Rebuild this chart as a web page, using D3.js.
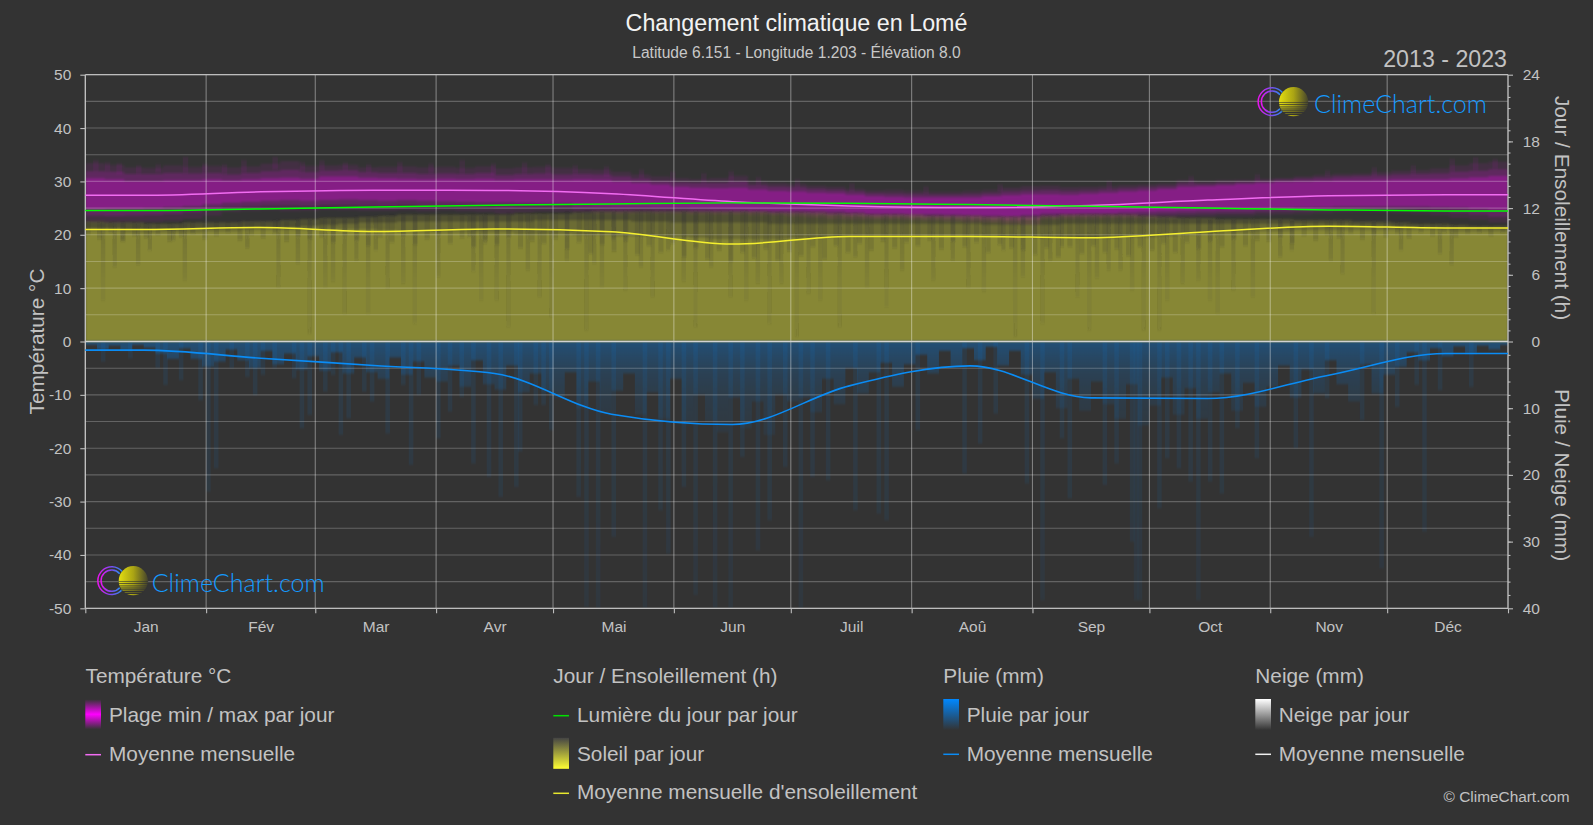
<!DOCTYPE html>
<html><head><meta charset="utf-8">
<script src="https://cdn.jsdelivr.net/npm/d3@7"></script>
<style>html,body{margin:0;padding:0;background:#333;overflow:hidden}svg{display:block}text{font-family:"Liberation Sans",Arial,sans-serif}</style>
</head><body><svg id="c" width="1593" height="825"></svg>
<script>
// ---------- data ----------
const months=["Jan","Fév","Mar","Avr","Mai","Jun","Juil","Aoû","Sep","Oct","Nov","Déc"];
const monthStarts=[0,31,59,90,120,151,181,212,243,273,304,334,365];
const monthMids=[15,45,74,105,135,166,196,227,258,288,319,349];
const tempTicks=[50,40,30,20,10,0,-10,-20,-30,-40,-50];
const hourTicks=[0,6,12,18,24];
const rainTicks=[0,10,20,30,40];
// monthly means
const tempMean=[27.4,28.05,28.35,28.3,27.7,26.2,25.4,25.1,25.5,26.5,27.3,27.5];
const daylight=[11.78,11.93,12.11,12.26,12.38,12.47,12.44,12.32,12.17,12.0,11.84,11.75];
const sunMean=[10.07,10.25,9.9,10.13,9.87,8.76,9.45,9.45,9.33,9.87,10.37,10.22];
const rainMean=[1.3,2.5,3.6,4.8,10.9,12.45,6.65,3.65,8.45,8.55,5.05,1.8];
// five-day envelopes (day 0,5,...,365)
const tMaxFar=[33.4,33.1,32.6,32.5,33.0,32.7,32.9,32.6,32.8,33.3,33.8,32.9,33.0,33.1,32.6,32.7,32.8,32.6,32.7,32.5,32.8,32.4,32.6,32.7,32.5,32.3,32.2,31.8,31.3,30.9,30.6,30.4,30.6,31.0,30.0,29.7,29.5,29.2,29.0,28.6,28.3,28.4,28.2,28.0,28.0,28.2,28.4,28.8,29.1,29.2,28.9,29.0,29.1,29.3,29.4,29.6,30.2,30.0,30.2,30.3,30.5,30.6,30.9,31.2,31.4,31.5,31.7,32.0,32.1,32.4,33.0,33.4,33.7,33.4];
const tMaxMid=[31.9,31.8,31.4,31.4,31.6,31.5,31.6,31.3,31.6,31.9,32.2,31.7,32.0,32.1,31.7,31.6,31.6,31.4,31.5,31.4,31.6,31.2,31.4,31.5,31.3,31.4,31.3,30.9,30.5,30.1,29.8,29.7,29.7,30.0,29.3,29.0,28.9,28.6,28.4,28.1,27.8,27.7,27.6,27.5,27.5,27.6,27.8,28.1,28.3,28.4,28.2,28.3,28.5,28.7,28.9,29.1,29.6,29.5,29.7,29.9,30.1,30.3,30.5,30.7,30.9,31.0,31.1,31.3,31.4,31.5,31.8,32.0,32.3,32.1];
const tMaxCore=[30.6,30.4,30.1,30.1,30.2,30.2,30.4,30.2,30.4,30.6,30.7,30.5,30.9,30.9,30.7,30.6,30.5,30.4,30.5,30.4,30.5,30.3,30.4,30.4,30.3,30.4,30.3,30.0,29.7,29.4,29.0,28.8,28.7,28.8,28.5,28.2,28.1,27.9,27.8,27.5,27.2,27.1,27.0,27.0,27.0,27.0,27.2,27.4,27.6,27.6,27.5,27.7,27.9,28.1,28.3,28.6,29.0,29.1,29.3,29.5,29.7,29.9,30.0,30.1,30.2,30.2,30.3,30.4,30.4,30.4,30.6,30.8,31.0,30.9];
const tMinCore=[24.8,24.9,24.9,25.0,25.2,25.4,25.7,26.0,26.2,26.4,26.5,26.4,26.5,26.6,26.5,26.4,26.5,26.4,26.3,26.2,26.1,26.1,26.0,25.9,25.9,25.5,25.4,25.3,25.3,25.2,25.2,25.0,24.9,24.8,24.7,24.6,24.6,24.5,24.4,24.2,24.0,24.0,23.9,23.9,23.8,23.7,23.6,23.5,23.7,24.0,24.0,24.1,24.1,24.2,24.3,24.4,24.5,24.6,24.7,24.8,24.9,25.0,25.1,25.2,25.3,25.3,25.3,25.3,25.3,25.2,25.1,24.9,24.6,24.3];
const tMinMid=[23.6,23.5,23.6,23.7,23.9,24.2,24.7,25.1,25.3,25.5,25.5,25.4,25.6,25.6,25.5,25.4,25.6,25.4,25.4,25.3,25.2,25.0,25.1,25.1,25.1,24.8,24.7,24.6,24.7,24.6,24.6,24.4,24.3,24.3,24.2,24.1,24.0,23.8,23.7,23.5,23.4,23.4,23.3,23.3,23.2,23.0,22.9,22.7,22.8,23.4,23.5,23.5,23.6,23.6,23.7,23.8,23.9,24.0,24.1,24.1,24.3,24.4,24.5,24.6,24.7,24.8,24.7,24.7,24.6,24.4,24.1,23.8,23.4,23.1];
const tMinFar=[22.4,22.3,22.4,22.4,22.6,23.0,23.6,24.3,24.5,24.6,24.4,24.5,24.7,24.6,24.5,24.5,24.6,24.4,24.6,24.4,24.3,24.0,24.2,24.4,24.3,24.2,24.1,24.0,24.1,24.0,24.0,23.9,23.8,23.8,23.7,23.6,23.4,23.2,23.0,22.9,22.9,22.9,22.8,22.7,22.6,22.4,22.3,22.0,21.9,22.9,23.0,23.0,23.1,23.1,23.1,23.2,23.3,23.4,23.5,23.5,23.7,23.8,23.9,24.1,24.2,24.3,24.2,24.1,23.9,23.6,23.2,22.8,22.3,21.9];
// [day, °C] hottest single days sticking out of the band
const hotDays=[[2,34],[5,33.6],[8,33.4],[13,33],[18,33.2],[25,34.6],[30,33.4],[35,33.2],[40,34],[48,34.6],[55,33.6],[60,33.9],[66,33.5],[72,33.2],[80,33.6],[88,33.3],[96,34],[104,33.3],[112,33.5],[118,33.2],[125,33],[133,32.8],[142,32.2],[150,31.8],[158,31.5],[165,31.9],[172,30.8],[182,30.4],[196,29.6],[215,29],[234,29.4],[262,30.1],[283,31],[300,31.3],[318,32],[330,32.6],[340,33],[350,34.2],[356,34.5],[361,34.2]];
const sunTop=[10.8,10.7,10.7,10.6,10.6,10.7,10.7,10.7,10.8,10.8,10.9,11.0,11.1,11.1,11.2,11.3,11.4,11.4,11.4,11.4,11.4,11.4,11.5,11.5,11.5,11.6,11.7,11.7,11.7,11.7,11.7,11.7,11.7,11.7,11.7,11.6,11.6,11.6,11.5,11.5,11.4,11.4,11.4,11.3,11.3,11.3,11.2,11.2,11.2,11.3,11.4,11.4,11.4,11.4,11.3,11.2,11.1,11.1,11.0,11.0,11.0,11.0,10.9,10.9,10.9,10.8,10.8,10.7,10.6,10.6,10.5,10.4,10.4,10.3];
const sunMid=[10.2,10.2,10.1,10.1,10.1,10.2,10.2,10.2,10.3,10.3,10.3,10.4,10.5,10.6,10.7,10.7,10.8,10.8,10.8,10.8,10.8,10.8,10.8,10.9,10.9,10.9,10.9,10.9,10.8,10.8,10.7,10.7,10.7,10.7,10.7,10.6,10.6,10.6,10.6,10.6,10.6,10.6,10.6,10.6,10.6,10.6,10.5,10.5,10.5,10.5,10.6,10.6,10.6,10.6,10.6,10.6,10.6,10.6,10.6,10.6,10.6,10.6,10.6,10.6,10.6,10.5,10.5,10.4,10.3,10.3,10.2,10.2,10.2,10.1];
const sunSolid=[9.9,9.9,9.8,9.8,9.8,9.8,9.9,9.9,10.0,10.0,10.0,10.0,10.1,10.1,10.1,10.0,9.9,9.8,9.8,9.8,9.8,9.8,9.7,9.7,9.7,9.6,9.6,9.5,9.5,9.4,9.4,9.3,9.2,9.2,9.2,9.2,9.3,9.3,9.4,9.4,9.4,9.4,9.4,9.5,9.5,9.5,9.5,9.4,9.4,9.3,9.3,9.3,9.3,9.4,9.4,9.5,9.6,9.7,9.8,9.8,9.9,9.9,10.0,10.0,10.0,10.0,10.0,10.0,10.0,10.0,9.9,9.9,9.9,9.9];
// every third day: how far the usual rain reaches, mm
const rainDense=[0.5,1.2,0.6,1.3,0.5,0.9,1.8,2.6,1.0,2.6,3.8, 3.0,1.2,2.8,4.0,1.4,3.4,1.8,4.2,2.2, 4.4,1.6,4.8,2.4,4.6,5.6,2.4,5.0,3.0,5.4,6.0, 3.6,6.8,2.8,6.4,7.2,3.6,7.6,4.8,7.4, 8.4,4.6,10.0,6.0,10.8,7.4,4.8,11.0,7.6,11.6,5.6, 12.4,8.0,12.0,13.6,8.4,13.0,9.0,14.0,8.0,9.0, 8.4,10.6,5.6,9.4,4.0,7.8,4.6,3.2,6.8,3.4, 2.0,4.8,1.4,3.8,1.0,2.8,0.8,3.6,1.4,5.0, 8.6,4.6,10.0,5.6,10.4,6.0,9.4,11.6,6.4,12.6, 9.6,5.4,11.0,7.0,11.6,7.6,4.8,10.4,6.2,9.8, 6.8,3.6,8.4,4.2,7.8,2.8,6.4,9.0,3.4,7.8,5.0, 3.8,1.6,2.8,1.0,2.2,0.7,1.8,0.6,1.2,0.5,0.5];
// every third day: how far the usual cloudy streak cuts down, hours
const sunShort=[9.6,9.2,9.8,9.0,9.5,9.3,9.6,9.0,9.4,9.7,9.2, 9.5,9.8,9.1,9.6,9.3,9.7,9.0,9.5,9.2, 9.4,8.9,9.6,9.1,8.6,9.4,8.9,9.5,8.7,9.2,9.6, 8.8,9.3,8.5,9.1,8.7,9.4,8.4,9.0,8.8, 9.2,8.3,8.9,7.9,8.7,8.1,9.0,7.8,8.6,8.0,8.8, 7.6,8.4,7.4,8.2,7.2,8.0,7.5,8.3,7.3,8.1, 7.7,8.5,7.4,8.6,8.0,8.8,8.2,9.0,8.4,8.9, 8.6,9.1,8.3,9.0,8.5,8.9,8.0,8.7,8.4,8.2, 7.8,8.4,7.6,8.5,7.9,8.6,8.0,8.3,7.7,8.5, 8.2,8.8,8.0,8.9,8.3,9.0,8.5,9.2,8.6,9.1, 9.0,9.4,8.8,9.5,9.1,9.6,9.3,9.7,9.2,9.6,9.4, 9.7,9.3,9.8,9.5,9.8,9.4,9.7,9.8,9.5,9.8,9.8];
// [day, deepest mm] single-day rain streaks
const rainSpikes=[[4,3],[11,2.5],[18,4],[20,6.5],[24,5.8],[29,8.8],[31,22.5],[33,19],[37,4],[41,5.3],[43,8],[45,5],[48,4],[53,5.5],[55,13],[57,11],[61,7.5],[63,5],[65,14],[67,11.5],[71,7.5],[73,9],[77,13.8],[81,6.5],[83,18.5],[85,8],[90,14.5],[93,10.5],[96,8.3],[99,18.3],[103,20.3],[106,23.3],[110,21.8],[111,16.5],[115,9.5],[117,9.5],[119,13.3],[126,23.3],[128,39.8],[131,40],[135,29.3],[143,40],[147,25.3],[149,31.8],[153,21.8],[156,38],[161,40],[165,40],[168,17.3],[172,31.3],[175,26.8],[179,18.8],[183,40],[186,20.3],[190,20.8],[197,25.3],[203,25.8],[205,26.8],[213,13.3],[225,19.8],[229,15.3],[233,10.8],[241,21.3],[245,38.8],[250,14.5],[252,23.5],[261,21.5],[264,18.3],[268,30],[269,38.8],[270,38.8],[275,25],[277,17.5],[280,19],[283,21],[285,38.8],[288,21],[291,22.8],[295,13],[300,17.5],[310,16],[314,29.3],[318,8.5],[327,11.8],[332,34],[336,9.8],[341,6.5],[343,28.5],[347,7.3],[355,6.8]];
// [day, hours reached] cloudy-day streaks cutting into the sunshine
const sunDips=[[4,3.7],[7,6.7],[9,9.1],[13,6.9],[16,8.2],[22,9.1],[25,5.5],[41,8.4],[49,4.9],[54,7],[57,0.7],[61,4.9],[63,5.4],[66,2.5],[69,7.3],[72,2.5],[74,8.2],[77,4.8],[81,5.2],[84,1.6],[90,5.8],[98,9.4],[99,6.3],[101,3.7],[102,8.8],[105,3.7],[108,1.3],[113,6.4],[116,4],[119,2.2],[123,7.3],[128,1],[130,7],[132,4.9],[135,9.1],[138,4.6],[142,6.7],[145,4],[149,8.2],[153,5.4],[156,1.3],[160,6.7],[165,4],[169,3.7],[172,5.2],[175,1.6],[178,5.2],[182,0.4],[185,4.3],[188,3.7],[193,1.3],[197,7.6],[200,4.9],[205,3.1],[209,6.4],[217,5.5],[222,7.3],[226,4.9],[230,4.5],[235,8.2],[238,0.4],[240,5.8],[243,9.4],[245,1.6],[247,7.3],[250,8.5],[254,4],[257,1],[259,5.7],[262,6.4],[265,6.4],[268,4.6],[271,1],[275,1],[277,3.7],[281,5.2],[285,5.5],[288,3.7],[290,2.5],[294,4.6],[299,4],[306,7.6],[309,8.2],[319,7.3],[322,6.1],[330,2.5],[337,8.2],[347,7.9],[350,6.9]];
// text
const titleText="Changement climatique en Lomé";
const subtitleText="Latitude 6.151 - Longitude 1.203 - Élévation 8.0";
const periodText="2013 - 2023";
const logoText="ClimeChart.com";
// ---------- layout ----------
const L=85.3,R=1508,T=74.7,B=608.3;
const svg=d3.select("#c");
const TXT="#c2c2c2", FS=20.8;
svg.append("rect").attr("width",1593).attr("height",825).attr("fill","#333");
const x=d3.scaleLinear([0,365],[L,R]);
const y=d3.scaleLinear([-50,50],[B,T]);
const yH=d3.scaleLinear([0,24],[y(0),y(50)]);
const yR=d3.scaleLinear([0,40],[y(0),y(-50)]);
const dayW=x(1)-x(0);
const defs=svg.append("defs");
defs.append("clipPath").attr("id","plot").append("rect").attr("x",L).attr("y",T).attr("width",R-L).attr("height",B-T);
function blur(id,sd){defs.append("filter").attr("id",id).attr("x","-2%").attr("width","104%").attr("y","-20%").attr("height","140%")
  .append("feGaussianBlur").attr("stdDeviation",sd);}
blur("soft","1.0 1.0");blur("streak","0.7 0.9");
function grad(id,stops,user){
  const g=defs.append("linearGradient").attr("id",id).attr("x1",0).attr("x2",0);
  if(user){g.attr("gradientUnits","userSpaceOnUse").attr("y1",user[0]).attr("y2",user[1]);}else{g.attr("y1",0).attr("y2",1);}
  stops.forEach(s=>g.append("stop").attr("offset",s[0]).attr("stop-color",s[1]).attr("stop-opacity",s[2]));
}
grad("rainDenseG",[[0,"#0088ff",.33],[.05,"#0088ff",.25],[.12,"#0088ff",.16],[.22,"#0088ff",.1],[.4,"#0088ff",.05],[1,"#0088ff",.05]],[yR(0),yR(40)]);
grad("rainSpikeG",[[0,"#0088ff",.09],[.3,"#0088ff",.085],[1,"#0088ff",.055]],[yR(0),yR(40)]);
grad("dipG",[[0,"#333",.07],[.5,"#333",.09],[.85,"#333",.17],[1,"#333",.24]],[yH(0),yH(11)]);
grad("lgTemp",[[0,"#333",1],[.5,"#ff00ff",1],[1,"#333",1]]);
grad("lgSun",[[0,"#444",1],[1,"#ffff33",1]]);
grad("lgRain",[[0,"#0088ff",1],[1,"#333",1]]);
grad("lgSnow",[[0,"#ffffff",1],[1,"#333",1]]);
const plot=svg.append("g").attr("clip-path","url(#plot)");
function band(g,dayList,topA,botA,scale,fill,op,filter){
  const a=d3.area().x(d=>x(d)).y0((d,i)=>scale(botA?botA[i]:0)).y1((d,i)=>scale(topA[i])).curve(d3.curveStepAfter);
  const p=g.append("path").attr("d",a(dayList)).attr("fill",fill).attr("fill-opacity",op);
  if(filter)p.attr("filter",`url(#${filter})`);
}
const days5=tMaxFar.map((_,i)=>i*5);
const days3=rainDense.map((_,i)=>i*3);
// temperature
const gT=plot.append("g");
gT.append("g").attr("filter","url(#streak)").selectAll("rect").data(hotDays).join("rect")
  .attr("x",d=>x(d[0])).attr("width",dayW*1.4).attr("y",d=>y(d[1])).attr("height",d=>y(tMaxMid[Math.round(d[0]/5)])-y(d[1]))
  .attr("fill","#ff00ff").attr("fill-opacity",.06);
band(gT,days5,tMaxFar,tMinFar,y,"#ff00ff",.08,"soft");
band(gT,days5,tMaxMid,tMinMid,y,"#ff00ff",.15,"soft");
band(gT,days5,tMaxCore,tMinCore,y,"#ff00ff",.24,"soft");
// sunshine
const gS=plot.append("g");
band(gS,days5,sunTop,null,yH,"#ffff3c",.14,"soft");
band(gS,days5,sunMid,null,yH,"#ffff3c",.16,"soft");
band(gS,days5,sunSolid,null,yH,"#ffff3c",.18,"soft");
const gS2=gS.append("g").attr("filter","url(#streak)");
gS2.append("g").selectAll("rect").data(sunShort).join("rect")
  .attr("x",(d,i)=>x(i*3)).attr("width",dayW*1.3)
  .attr("y",(d,i)=>yH(sunTop[Math.round(i*3/5)])).attr("height",(d,i)=>yH(d)-yH(sunTop[Math.round(i*3/5)]))
  .attr("fill","#333").attr("fill-opacity",.16);
gS2.append("g").selectAll("rect").data(sunDips).join("rect")
  .attr("x",d=>x(d[0])).attr("width",dayW+.4)
  .attr("y",d=>yH(sunTop[Math.round(d[0]/5)])).attr("height",d=>yH(d[1])-yH(sunTop[Math.round(d[0]/5)]))
  .attr("fill","url(#dipG)");
// rain
const gR=plot.append("g").attr("filter","url(#streak)");
band(gR,days3,rainDense,null,yR,"url(#rainDenseG)",1,null);
gR.append("g").selectAll("rect").data(rainSpikes).join("rect")
  .attr("x",d=>x(d[0])).attr("width",dayW+.6)
  .attr("y",yR(0)).attr("height",d=>yR(d[1])-yR(0))
  .attr("fill","url(#rainSpikeG)");
// grid
const gridT=d3.range(-50,51,5);
svg.append("g").selectAll("line").data(gridT).join("line")
  .attr("x1",L).attr("x2",R).attr("y1",d=>y(d)).attr("y2",d=>y(d))
  .attr("stroke","#fff").attr("stroke-opacity",.24).attr("stroke-width",1.1);
svg.append("g").selectAll("line").data(monthStarts.slice(1,-1)).join("line")
  .attr("x1",d=>x(d)).attr("x2",d=>x(d)).attr("y1",T).attr("y2",B)
  .attr("stroke","#fff").attr("stroke-opacity",.38).attr("stroke-width",1.1);
// frame lines
const frame=[[L,T,L,B,"#c8c8c8"],[R,T,R,B,"#c8c8c8"],[L,T,R,T,"#bdbdbd"],[L,B,R,B,"#bdbdbd"],[L,y(0),R,y(0),"#d2d2d2"]];
svg.append("g").selectAll("line").data(frame).join("line")
  .attr("x1",d=>d[0]).attr("y1",d=>d[1]).attr("x2",d=>d[2]).attr("y2",d=>d[3]).attr("stroke",d=>d[4]).attr("stroke-width",1.3);
// monthly curves
const knots=[0,...monthMids,365];
const ext=a=>[a[0],...a,a[a.length-1]];
function curve(vals,scale,color,w){
  const e=ext(vals);
  const l=d3.line().x(d=>x(d)).y((d,i)=>scale(e[i])).curve(d3.curveMonotoneX);
  svg.append("path").attr("d",l(knots)).attr("fill","none").attr("stroke",color).attr("stroke-width",w);
}
curve(tempMean,y,"#f26cf2",1.5);
curve(daylight,yH,"#00ff00",1.5);
curve(sunMean,yH,"#f5f02e",1.5);
curve(rainMean,yR,"#0a8cf5",1.6);
// axes
function style(g){
  g.select(".domain").remove();
  g.selectAll(".tick line").attr("stroke","#bdbdbd").attr("stroke-width",1.1);
  g.selectAll(".tick text").attr("fill",TXT).attr("font-size",15.5).style("font-family",'"Liberation Sans",Arial,sans-serif');
}
svg.append("g").attr("transform",`translate(${L},0)`).call(d3.axisLeft(y).tickValues(tempTicks).tickSize(5).tickPadding(9).tickFormat(d=>String(d))).call(style);
svg.append("g").attr("transform",`translate(${R},0)`).call(d3.axisRight(yH).tickValues(d3.range(1,24)).tickSize(2.5).tickFormat("")).call(style);
svg.append("g").attr("transform",`translate(${R},0)`).call(d3.axisRight(yR).tickValues(d3.range(2,40,2)).tickSize(2.5).tickFormat("")).call(style);
const rightAxis=(scale,ticks)=>svg.append("g").attr("transform",`translate(${R},0)`).call(d3.axisRight(scale).tickValues(ticks).tickSize(5).tickPadding(0).tickFormat(d=>d)).call(style).call(g=>g.selectAll(".tick text").attr("text-anchor","end").attr("x",32));
rightAxis(yH,hourTicks);
rightAxis(yR,rainTicks.slice(1));
svg.append("g").attr("transform",`translate(0,${B})`).call(d3.axisBottom(x).tickValues(monthStarts).tickSize(5).tickFormat("")).call(style);
svg.append("g").attr("transform",`translate(0,${B})`).call(d3.axisBottom(x).tickValues(months.map((m,i)=>(monthStarts[i]+monthStarts[i+1])/2)).tickSize(0).tickPadding(12.5).tickFormat((d,i)=>months[i])).call(style);
// titles
function txt(s,px,py,size,fill,anchor,rot){
  const t=svg.append("text").attr("font-size",size).attr("fill",fill).attr("text-anchor",anchor||"start").text(s);
  t.attr("transform",`translate(${px},${py})`+(rot?` rotate(${rot})`:""));
  return t;
}
txt(titleText,796.5,31,23.3,"#f2f2f2","middle");
txt(subtitleText,796.5,58,15.6,"#c8c8c8","middle");
txt(periodText,1507,67.3,23.2,TXT,"end");
txt("Température °C",44,341.5,FS,TXT,"middle",-90);
txt("Jour / Ensoleillement (h)",1555,208,FS,TXT,"middle",90);
txt("Pluie / Neige (mm)",1555,475,FS,TXT,"middle",90);
// legend
const legendHeads=[["Température °C",85.5],["Jour / Ensoleillement (h)",553.3],["Pluie (mm)",943.3],["Neige (mm)",1255.3]];
legendHeads.forEach(h=>txt(h[0],h[1],682.7,FS,TXT));
function swatch(xp,yp,h,fill){svg.append("rect").attr("x",xp).attr("y",yp).attr("width",15.7).attr("height",h).attr("fill",fill);}
function dash(xp,yp,c){svg.append("line").attr("x1",xp).attr("x2",xp+15.7).attr("y1",yp).attr("y2",yp).attr("stroke",c).attr("stroke-width",1.5);}
swatch(85.3,699.3,30,"url(#lgTemp)");txt("Plage min / max par jour",109,722,FS,TXT);
dash(85.3,754.7,"#f26cf2");txt("Moyenne mensuelle",109,761,FS,TXT);
dash(553.3,715.7,"#00e000");txt("Lumière du jour par jour",577,722,FS,TXT);
swatch(553.3,737.8,31,"url(#lgSun)");txt("Soleil par jour",577,760.7,FS,TXT);
dash(553.3,793.3,"#e8e82e");txt("Moyenne mensuelle d'ensoleillement",577,799.3,FS,TXT);
swatch(943.3,699,31,"url(#lgRain)");txt("Pluie par jour",966.7,722,FS,TXT);
dash(943.3,754.3,"#0a8cf5");txt("Moyenne mensuelle",966.7,761,FS,TXT);
swatch(1255.3,699,31,"url(#lgSnow)");txt("Neige par jour",1278.7,722,FS,TXT);
dash(1255.3,754.3,"#f0f0f0");txt("Moyenne mensuelle",1278.7,761,FS,TXT);
txt("© ClimeChart.com",1569.5,801.7,15.4,TXT,"end");
// logos
defs.append("linearGradient").attr("id","ringG").attr("x1",0).attr("x2",1).attr("y1",0).attr("y2",0)
  .call(g=>{g.append("stop").attr("offset",0).attr("stop-color","#f010f0");g.append("stop").attr("offset",.55).attr("stop-color","#7a4cf0");g.append("stop").attr("offset",1).attr("stop-color","#2a8cf0");});
defs.append("linearGradient").attr("id","sunG").attr("x1",0).attr("x2",1).attr("y1",0).attr("y2",0)
  .call(g=>{g.append("stop").attr("offset",0).attr("stop-color","#e4de10");g.append("stop").attr("offset",.5).attr("stop-color","#aaa414");g.append("stop").attr("offset",1).attr("stop-color","#45442c");});
const stripeYs=[0.5,2.6,4.8,6.8,8.6,10.3,11.9];
function logo(cx,cy,tx,tb){
  const g=svg.append("g");
  const arc=d3.arc().startAngle(Math.PI/2+0.72).endAngle(Math.PI/2+2*Math.PI-0.72);
  [14.6,11.4].forEach(r=>{
    g.append("path").attr("transform",`translate(${cx},${cy})`)
      .attr("d",arc.innerRadius(r-1.5).outerRadius(r)()).attr("fill","url(#ringG)");
  });
  const sx=cx+21.6;
  g.append("circle").attr("cx",sx).attr("cy",cy).attr("r",14.6).attr("fill","url(#sunG)");
  stripeYs.forEach((d,i)=>{
    const half=Math.sqrt(Math.max(0,14.9*14.9-d*d));
    g.append("rect").attr("x",sx-half).attr("width",2*half).attr("y",cy+d).attr("height",.6+i*.14).attr("fill","#333");
  });
  g.append("text").attr("x",tx).attr("y",tb).attr("font-size",24.5).attr("font-weight",300).attr("fill","#149aff").attr("textLength",173).attr("lengthAdjust","spacingAndGlyphs").style("font-family","Lato").text(logoText);
}
logo(1272,101.7,1314,113);
logo(111.7,580.7,151.7,591.5);
</script></body></html>
